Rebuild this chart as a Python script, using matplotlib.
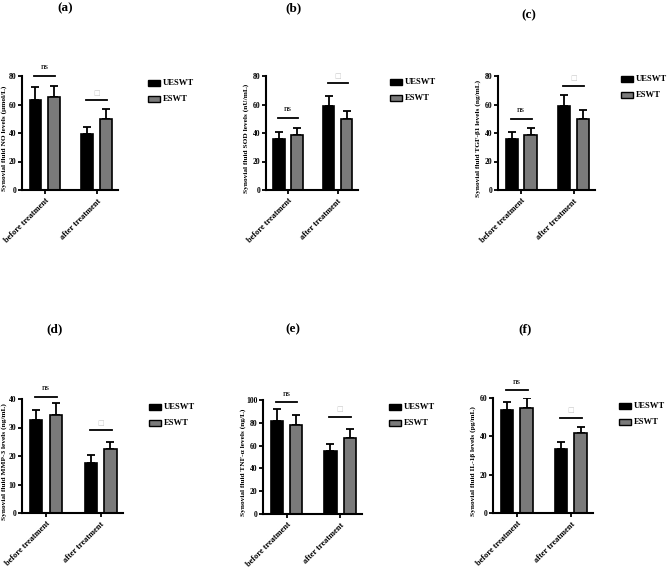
import matplotlib
matplotlib.use("Agg")
import matplotlib.pyplot as plt
from matplotlib.patches import Rectangle

plt.rcParams['font.family'] = ['Liberation Serif', 'DejaVu Sans']
plt.rcParams['font.weight'] = 'bold'

categories = ["before treatment", "after treatment"]
groups = ["UESWT", "ESWT"]
panel_titles = ["(a)", "(b)", "(c)", "(d)", "(e)", "(f)"]
ylabels = ["Synovial fluid NO levels (μmol/L)",
           "Synovial fluid SOD levels (nU/mL)",
           "Synovial fluid TGF-β1 levels (ng/mL)",
           "Synovial fluid MMP-3 levels (ng/mL)",
           "Synovial fluid TNF-α levels (ng/L)",
           "Synovial fluid IL-1β levels (pg/mL)"]
ymax = [80, 80, 80, 40, 100, 60]
ystep = [20, 20, 20, 10, 20, 20]

# means [UESWT(before, after)], [ESWT(before, after)]
uesw_mean = [[63, 39], [36, 59], [36, 59], [32.5, 17.7], [82, 55], [53.5, 33.5]]
uesw_err = [[9, 5], [4.5, 7], [5, 7.5], [3.5, 2.6], [10, 6], [4.5, 3.5]]
eswt_mean = [[65, 50], [38.5, 50], [38.5, 50], [34.5, 22.5], [78, 66.5], [55, 41.5]]
eswt_err = [[8, 7], [5, 5.5], [5, 6], [4, 2.5], [9, 8], [5, 3.5]]
sig_labels = [["ns", "□"], ["ns", "□"], ["ns", "□"], ["ns", "□"], ["ns", "□"], ["ns", "□"]]
sig_line_y = [[80, 63], [50.5, 75], [50, 73], [40.7, 29], [98, 85], [64, 49.5]]

W, H = 669, 572
fig = plt.figure(figsize=(W / 100, H / 100), dpi=100)

# axes pixel boxes: x0, x1, ytop, ybottom
boxes = [(22, 118, 76, 190), (266, 358, 76, 190), (498, 595, 76, 190),
         (22, 123, 399, 513), (263, 362, 400, 514), (493, 593, 398, 513)]
title_pos = [(65, 8), (293, 8), (529, 15), (55, 329), (293, 329), (525, 329)]
leg_pos = [(148, 83), (390, 82), (621, 79), (149, 407), (389, 407), (619, 406)]
ylab_off = [15, 17, 17, 15, 17, 17]

off = 0.18
bw = 0.23
for i in range(6):
    x0, x1, yt, yb = boxes[i]
    ax = fig.add_axes([x0 / W, 1 - yb / H, (x1 - x0) / W, (yb - yt) / H])
    xs = list(range(len(categories)))
    xa = [x - off for x in xs]
    xb = [x + off for x in xs]
    ax.bar(xa, uesw_mean[i], width=bw, color='black', edgecolor='black', linewidth=1.2, zorder=2)
    ax.bar(xb, eswt_mean[i], width=bw, color='#7a7a7a', edgecolor='black', linewidth=1.2, zorder=2)
    ax.errorbar(xa, uesw_mean[i], yerr=[[0, 0], uesw_err[i]], fmt='none', ecolor='black',
                elinewidth=1.3, capsize=3, capthick=1.3, zorder=1)
    ax.errorbar(xb, eswt_mean[i], yerr=[[0, 0], eswt_err[i]], fmt='none', ecolor='black',
                elinewidth=1.3, capsize=3, capthick=1.3, zorder=1)
    for j, x in enumerate(xs):
        ly = sig_line_y[i][j]
        ax.plot([x - 0.2, x + 0.2], [ly, ly], color='black', lw=1.3, clip_on=False)
        lab = sig_labels[i][j]
        if lab == "ns":
            ax.text(x, ly + ymax[i] * 0.04, lab, ha='center', va='bottom', fontsize=6.5,
                    fontweight='normal', clip_on=False)
        else:
            ax.text(x, ly + ymax[i] * 0.04, lab, ha='center', va='bottom', fontsize=5,
                    color='#c8c8c8', family=['DejaVu Sans'], clip_on=False)
    ax.set_xlim(-0.44, 1.41)
    ax.set_ylim(0, ymax[i])
    ax.set_yticks(range(0, ymax[i] + 1, ystep[i]))
    ax.set_xticks(xs)
    ax.set_xticklabels(categories, rotation=45, ha='right', rotation_mode='anchor',
                       fontsize=6, fontweight='bold')
    for lbl in ax.get_yticklabels():
        lbl.set_fontsize(5.5)
        lbl.set_fontweight('bold')
    ax.tick_params(axis='both', width=1.3, length=3, pad=1)
    ax.tick_params(axis='x', pad=2)
    for s in ['top', 'right']:
        ax.spines[s].set_visible(False)
    for s in ['left', 'bottom']:
        ax.spines[s].set_linewidth(1.5)
    ax.set_ylabel(ylabels[i], fontsize=5.3, fontweight='bold')
    ax.yaxis.set_label_coords(-ylab_off[i] / (x1 - x0), 0.45)

    tx, ty = title_pos[i]
    fig.text(tx / W, 1 - ty / H, panel_titles[i], ha='center', va='center',
             fontsize=9.5, fontweight='bold')

    lx, ly0 = leg_pos[i]
    for k, (g, c) in enumerate(zip(groups, ['black', '#7a7a7a'])):
        yy = ly0 + 16 * k
        fig.add_artist(Rectangle((lx / W, 1 - (yy + 3) / H), 12 / W, 6 / H,
                                 transform=fig.transFigure, facecolor=c,
                                 edgecolor='black', linewidth=1.0))
        fig.text((lx + 15) / W, 1 - yy / H, g, ha='left', va='center',
                 fontsize=6.2, fontweight='bold')

fig.savefig("out.png", dpi=100, facecolor='white')
